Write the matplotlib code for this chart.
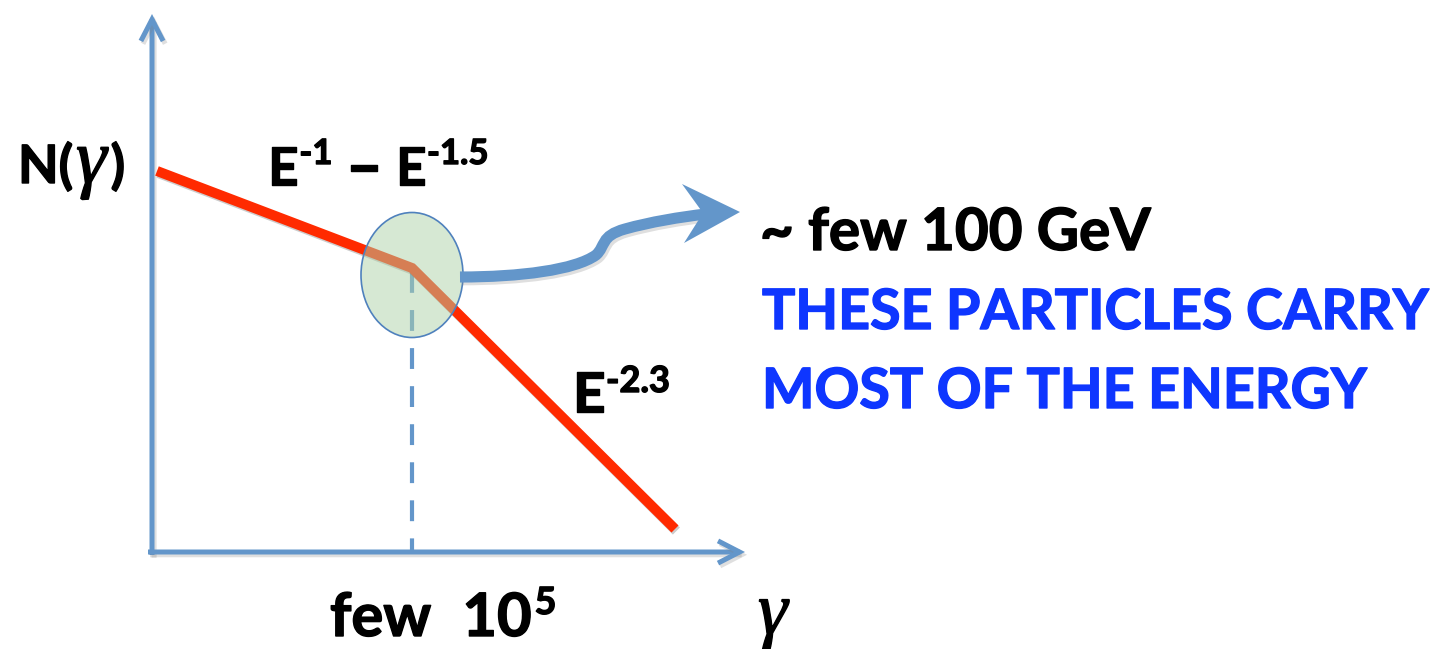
import matplotlib
matplotlib.use("Agg")
import matplotlib.pyplot as plt
import matplotlib.patheffects as pe
from matplotlib.patches import Ellipse, PathPatch, Polygon
from matplotlib.path import Path

plt.rcParams["lines.scale_dashes"] = False

W, H = 1432, 649

# broken power-law sketch (drawing units, y grows downward)
gamma_pts = [157, 412, 675]
n_pts = [171, 268, 529]
break_gamma = 412
break_top = 272
axis_origin = (152, 552)
y_axis_tip = 14
x_axis_tip = 745

# ellipse marking the break
break_center = (412, 275)
break_size = (102, 125)

# curved arrow from the break to the note
curve_pts = [(460, 277), (520, 277), (575, 270), (596, 255),
             (606, 246), (600, 236), (625, 229),
             (650, 222), (680, 217), (706, 214)]
curve_codes = [Path.MOVETO] + [Path.CURVE4] * 9
head_pts = [(740, 212), (682, 184), (703, 213), (684, 243)]

AXIS_BLUE = "#6396CA"
RED = "#FF2A00"
NOTE_BLUE = "#0E36FF"
FONT = "Lato"

fig = plt.figure(figsize=(W / 100, H / 100), dpi=100)
ax = fig.add_axes([0, 0, 1, 1])
ax.set_xlim(0, W)
ax.set_ylim(H, 0)
ax.axis("off")
renderer = fig.canvas.get_renderer()

shadow = [pe.SimpleLineShadow(offset=(1.5, -2), shadow_color="#808080", alpha=0.25), pe.Normal()]

# dashed drop from the break to the gamma axis
ax.plot([break_gamma, break_gamma], [break_top, axis_origin[1]], color=AXIS_BLUE,
        lw=3.0, dashes=(15, 12.4), solid_capstyle="butt", zorder=1)

# axes with open arrow heads
arrow_kw = dict(arrowstyle="->,head_length=1.55,head_width=0.8", color=AXIS_BLUE,
                lw=3.6, mutation_scale=10, shrinkA=0, shrinkB=0, joinstyle="miter",
                capstyle="butt", path_effects=shadow)
ax.annotate("", xy=(axis_origin[0], y_axis_tip), xytext=(axis_origin[0], axis_origin[1] + 3),
            arrowprops=arrow_kw, zorder=2)
ax.annotate("", xy=(x_axis_tip, axis_origin[1]), xytext=(axis_origin[0] - 4, axis_origin[1]),
            arrowprops=arrow_kw, zorder=2)

# spectrum
ax.plot(gamma_pts, n_pts, color=RED, lw=7.2, solid_capstyle="butt",
        solid_joinstyle="miter", zorder=3,
        path_effects=[pe.SimpleLineShadow(offset=(1, -1.5), alpha=0.2), pe.Normal()])

ax.add_patch(Ellipse(break_center, break_size[0], break_size[1], facecolor="#AFD2A9",
                     alpha=0.5, edgecolor="none", zorder=4))
ax.add_patch(Ellipse(break_center, break_size[0], break_size[1], facecolor="none",
                     edgecolor="#4F81BD", lw=1.2, zorder=5))

ax.add_patch(PathPatch(Path(curve_pts, curve_codes), facecolor="none", edgecolor=AXIS_BLUE,
                       lw=8, capstyle="butt", zorder=5, path_effects=shadow))
ax.add_patch(Polygon(head_pts, closed=True, facecolor=AXIS_BLUE, edgecolor="none", zorder=5))


def put_runs(x, y, runs, color="black"):
    # draw pieces left to right: (text, size, rise, gap after, extra kwargs)
    for s, size, rise, gap, kw in runs:
        opts = dict(family=FONT, weight="bold")
        opts.update(kw)
        t = ax.text(x, y - rise, s, fontsize=size, color=color, ha="left",
                    va="baseline", zorder=6, **opts)
        t.set_path_effects([pe.withStroke(linewidth=1.0, foreground=color)])
        x += t.get_window_extent(renderer).width + gap


gamma_font = dict(family="Liberation Serif", style="italic", weight="normal")

put_runs(18, 183, [("N(", 38, 0, 3, {}), ("γ", 56, 0, 4, gamma_font), (")", 38, 0, 0, {})])
put_runs(268, 185, [("E", 38, 0, 1, {}), ("-1", 25, 21, 13, {}), ("–", 46, -2, 13, {}),
                    ("E", 38, 0, 1, {}), ("-1.5", 25, 21, 0, {})])
put_runs(573, 412, [("E", 40, 0, 1, {}), ("-2.3", 26, 20, 0, {})])
put_runs(330, 636, [("few", 43, 0, 31, {}), ("10", 43, 0, 3, {}), ("5", 27, 22, 0, {})])
put_runs(758, 634, [("γ", 54, 0, 0, gamma_font)])

put_runs(760, 250, [("~ few 100 GeV", 42, 0, 0, {})])
put_runs(762, 329, [("THESE PARTICLES CARRY", 40, 0, 0, {})], color=NOTE_BLUE)
put_runs(762, 408, [("MOST OF THE ENERGY", 40, 0, 0, {})], color=NOTE_BLUE)

fig.savefig("out.png", dpi=100, facecolor="white")
